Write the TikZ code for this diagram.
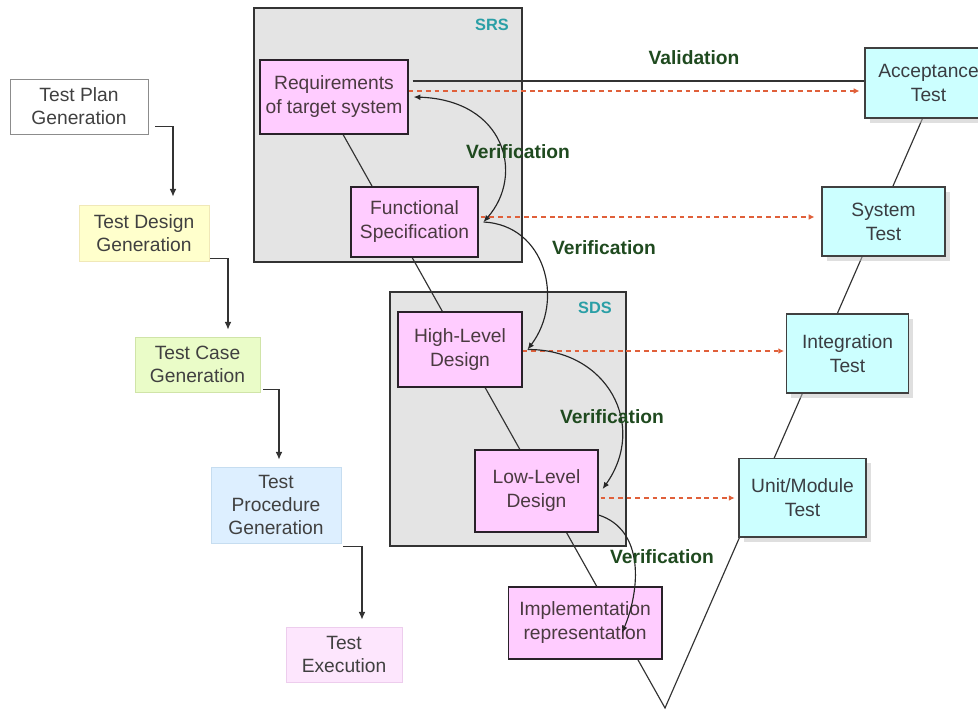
\documentclass[tikz,border=0pt]{standalone}
\usepackage{fontspec}
\setmainfont{Liberation Sans}
\usetikzlibrary{positioning}
\usetikzlibrary{arrows.meta}
\usetikzlibrary{shadows}
\definecolor{grpgrey}{HTML}{E4E4E4}
\definecolor{vpink}{HTML}{FFCCFF}
\definecolor{tcyan}{HTML}{CCFFFF}
\definecolor{vgreen}{HTML}{1F4A1F}
\definecolor{lblteal}{HTML}{2A9FA6}
\definecolor{tracered}{HTML}{E0603A}
\tikzset{tbox/.style = {draw, inner sep=0, align=center, text=black!75, font=\fontsize{10}{12}\selectfont}}
\tikzset{vbox/.style = {draw=black!60!vpink!40!black, fill=vpink, line width=0.6pt, inner sep=0, align=center, text=black!70!magenta!60!black, font=\fontsize{10}{12.5}\selectfont}}
\tikzset{tstbox/.style = {draw=black!75, fill=tcyan, line width=0.6pt, inner sep=0, align=center, text=black!70!cyan!50!black, font=\fontsize{10}{12.5}\selectfont,
    drop shadow={shadow xshift=2.5pt, shadow yshift=-2.5pt, fill=black!25}}}
\tikzset{grp/.style = {fill=grpgrey, draw=black!80, line width=1.3pt}}
\tikzset{grplbl/.style = {text=lblteal, font=\bfseries\fontsize{8.5}{10}\selectfont}}
\tikzset{vlbl/.style = {text=vgreen, font=\bfseries\fontsize{10}{12}\selectfont}}
\tikzset{flow/.style = {draw=black!80, line width=0.6pt, -{Latex[length=4pt,width=3.5pt]}}}
\tikzset{trace/.style = {draw=tracered, line width=0.65pt, dash pattern=on 2.5pt off 2pt, -{Latex[length=3pt,width=3pt]}}}
\tikzset{verif/.style = {draw=black!85, line width=0.6pt}}

\begin{document}
\begin{tikzpicture}[x=0.52pt, y=-0.52pt]
  \useasboundingbox (0,0) rectangle (978,710);
  \clip (0,0) rectangle (978,710);

  % SRS and SDS groups
  \draw[grp] (254,8) rectangle (522,262);
  \draw[grp] (390,292) rectangle (626,546);
  \node[grplbl] (srs) at (492,25) {SRS};
  \node[grplbl] (sds) at (595,308) {SDS};

  % the V
  \coordinate (vl) at (322,97);
  \coordinate (vb) at (665,708);
  \coordinate (vr) at (938,83);
  \draw[black!80, line width=0.6pt] (vl) -- (vb) -- (vr);

  % test process column
  \node[tbox, fill=white, draw=black!45, minimum width=71.8pt, minimum height=28.6pt] (plan) at (79,106.5) {Test Plan\\Generation};
  \node[tbox, fill={rgb,255:red,255;green,255;blue,204}, draw={rgb,255:red,240;green,232;blue,184}, minimum width=67.6pt, minimum height=29.1pt] (design) at (144,233) {Test Design\\Generation};
  \node[tbox, fill={rgb,255:red,234;green,252;blue,200}, draw={rgb,255:red,208;green,228;blue,168}, minimum width=65pt, minimum height=28.6pt] (casegen) at (197.5,364.5) {Test Case\\Generation};
  \node[tbox, fill={rgb,255:red,221;green,239;blue,255}, draw={rgb,255:red,198;green,221;blue,240}, minimum width=67.6pt, minimum height=39.5pt] (proc) at (276,505) {Test\\Procedure\\Generation};
  \node[tbox, fill={rgb,255:red,253;green,230;blue,253}, draw={rgb,255:red,237;green,205;blue,237}, minimum width=60.3pt, minimum height=28.6pt] (exec) at (344,654.5) {Test\\Execution};

  \draw[flow] ([shift={(7,-8)}]plan.south east) -| ([shift={(29,-8)}]design.north);
  \draw[flow] ([shift={(1,-3)}]design.south east) -| ([shift={(30.5,-7)}]casegen.north);
  \draw[flow] ([shift={(3,-3)}]casegen.south east) -| ([shift={(3,-7)}]proc.north);
  \draw[flow] ([shift={(2,3)}]proc.south east) -| ([shift={(18,-7)}]exec.north);

  % left arm
  \node[vbox, minimum width=77pt, minimum height=38.5pt] (req) at (334,97) {Requirements\\of target system};
  \node[vbox, minimum width=66pt, minimum height=36.4pt] (func) at (414.5,222) {Functional\\Specification};
  \node[vbox, minimum width=64.5pt, minimum height=39pt] (hld) at (460,349.5) {High-Level\\Design};
  \node[vbox, minimum width=64pt, minimum height=42.6pt] (lld) at (536.5,491) {Low-Level\\Design};
  \node[vbox, minimum width=80pt, minimum height=37.4pt] (impl) at (585,623) {Implementation\\representation};

  % right arm
  \node[tstbox, minimum width=66pt, minimum height=36.4pt] (acc) at (928.5,83) {Acceptance\\Test};
  \node[tstbox, minimum width=64pt, minimum height=35.9pt] (sys) at (883.5,221.5) {System\\Test};
  \node[tstbox, minimum width=63.4pt, minimum height=41pt] (integ) at (847.5,353.5) {Integration\\Test};
  \node[tstbox, minimum width=66pt, minimum height=41pt] (unit) at (802.5,497.5) {Unit/Module\\Test};

  % validation and test traces
  \draw[black!80, line width=0.6pt] ([shift={(4,-16)}]req.east) coordinate (v1) -- (v1 -| acc.west);
  \draw[trace, shorten >=2.6pt] ([shift={(0,-6)}]req.east) coordinate (t1) -- (t1 -| acc.west);
  \draw[trace, shorten >=3.6pt] ([shift={(2,-5)}]func.east) coordinate (t2) -- (t2 -| sys.west);
  \draw[trace, shorten >=1pt] ([shift={(0,1.5)}]hld.east) coordinate (t3) -- (t3 -| integ.west);
  \draw[trace, shorten >=2pt] ([shift={(2,7)}]lld.east) coordinate (t4) -- (t4 -| unit.west);

  % verification
  \draw[verif, {Latex[length=3.5pt,width=3pt]}-{Latex[length=3.5pt,width=3pt]}] ([shift={(5,0)}]req.east) .. controls (505,100) and (525,175) .. ([shift={(5,0)}]func.east);
  \draw[verif, -{Latex[length=3.5pt,width=3pt]}] ([shift={(5,0)}]func.east) .. controls (545,225) and (565,300) .. ([shift={(5,0)}]hld.east);
  \draw[verif, -{Latex[length=3.5pt,width=3pt]}] ([shift={(5,0)}]hld.east) .. controls (607,349) and (648,425) .. ([shift={(4,-2)}]lld.east);
  \draw[verif, -{Latex[length=3.5pt,width=3pt]}] ([shift={(0,24)}]lld.east) .. controls (645,530) and (640,590) .. ([shift={(37,10)}]impl.center);

  \node[vlbl] (valid) at (694,58) {Validation};
  \node[vlbl] (ver1) at (518,152) {Verification};
  \node[vlbl] (ver2) at (604,248) {Verification};
  \node[vlbl] (ver3) at (612,417) {Verification};
  \node[vlbl] (ver4) at (662,557) {Verification};
\end{tikzpicture}
\end{document}
